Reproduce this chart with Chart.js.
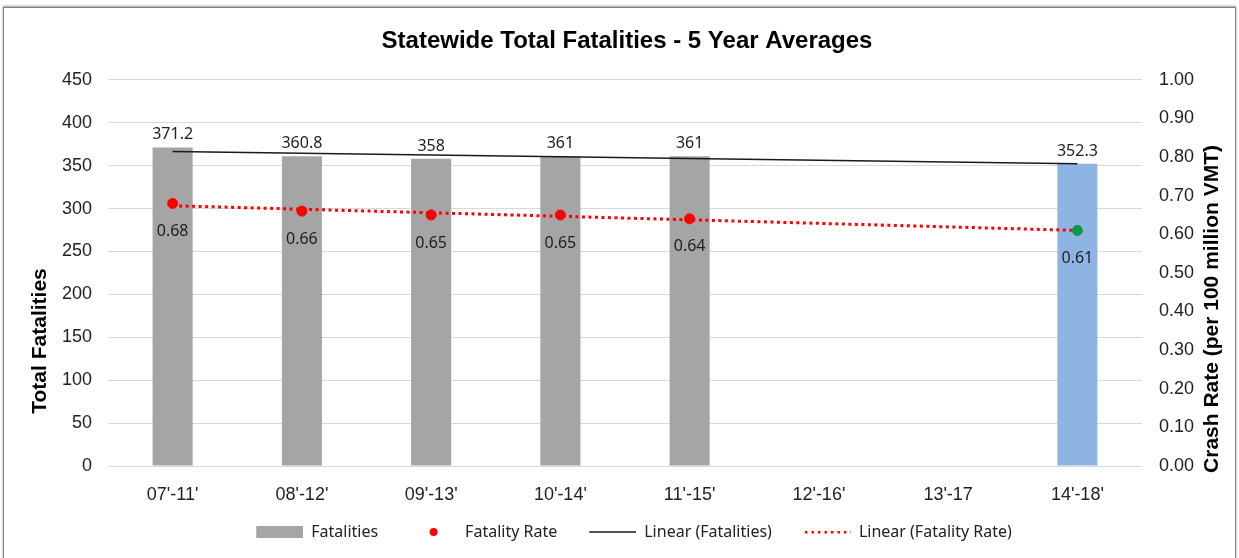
<!DOCTYPE html>
<html lang="en">
<head>
    <meta charset="UTF-8">
    <title>Statewide Total Fatalities - 5 Year Averages</title>
    <script src="https://cdn.jsdelivr.net/npm/chart.js"></script>
    <style>
        body {
            margin: 0;
            background: #ffffff;
            overflow: hidden;
        }

        .frame {
            position: absolute;
            left: 3px;
            top: 7px;
            width: 1231px;
            height: 600px;
            border: 1px solid #7f7f7f;
            box-shadow: 0 -1px 2px #9a9a9a;
        }

        .chart-box {
            position: absolute;
            left: 0;
            top: 0;
            width: 1239px;
            height: 558px;
        }
    </style>
</head>
<body>
    <div class="frame"></div>
    <div class="chart-box">
        <canvas id="fatalChart"></canvas>
    </div>

    <script>
        // values
        const categories = ["07'-11'", "08'-12'", "09'-13'", "10'-14'", "11'-15'", "12'-16'", "13'-17", "14'-18'"];
        const fatalities = [371.2, 360.8, 358, 361, 361, null, null, 352.3];
        const fatalityRate = [0.68, 0.66, 0.65, 0.65, 0.64, null, null, 0.61];
        const fatalitiesTrend = [366.4, null, null, null, null, null, null, 352.3];
        const rateTrend = [0.674, null, null, null, null, null, null, 0.610];

        const fatalAxis = { min: 0, max: 450, step: 50 };
        const rateAxis = { min: 0, max: 1, step: 0.1 };

        const barColors = ['#A5A5A5', '#A5A5A5', '#A5A5A5', '#A5A5A5', '#A5A5A5', '#A5A5A5', '#A5A5A5', '#8DB4E2'];
        const pointColors = ['#FF0000', '#FF0000', '#FF0000', '#FF0000', '#FF0000', '#FF0000', '#FF0000', '#0B9A45'];

        const tickFont = { family: '"Liberation Sans", Arial, sans-serif', size: 18 };
        const labelFont = '16px "Noto Sans", sans-serif';

        // little legend icons, 47px wide, drawn in the right part of a wider canvas
        function makeIcon(draw) {
            const c = document.createElement('canvas');
            c.width = 61;
            c.height = 12;
            const g = c.getContext('2d');
            g.translate(14, 0);
            draw(g);
            return c;
        }
        const iconBar = makeIcon(g => { g.fillStyle = '#A5A5A5'; g.fillRect(0, 0, 47, 12); });
        const iconDot = makeIcon(g => { g.fillStyle = '#FF0000'; g.beginPath(); g.arc(23.5, 6, 4, 0, Math.PI * 2); g.fill(); });
        const iconLine = makeIcon(g => { g.strokeStyle = '#1a1a1a'; g.lineWidth = 1.5; g.beginPath(); g.moveTo(0, 6); g.lineTo(47, 6); g.stroke(); });
        const iconDotted = makeIcon(g => {
            g.fillStyle = '#FF0000';
            for (let x = 1; x < 47; x += 6.5) g.fillRect(x, 5, 2.5, 2.5);
        });

        const extras = {
            id: 'extras',
            afterDatasetsDraw(chart) {
                const ctx = chart.ctx;
                ctx.save();
                ctx.font = labelFont;
                ctx.fillStyle = '#1e1e1e';
                ctx.textAlign = 'center';

                ctx.textBaseline = 'alphabetic';
                chart.getDatasetMeta(0).data.forEach((el, i) => {
                    if (fatalities[i] == null) return;
                    ctx.fillText(String(fatalities[i]), el.x, el.y - 8);
                });

                ctx.textBaseline = 'middle';
                chart.getDatasetMeta(1).data.forEach((el, i) => {
                    if (fatalityRate[i] == null) return;
                    ctx.fillText(fatalityRate[i].toFixed(2), el.x, el.y + 28);
                });

                // axis titles (both read bottom to top)
                ctx.font = 'bold 21px "Liberation Sans", Arial, sans-serif';
                ctx.fillStyle = '#000';
                ctx.save();
                ctx.translate(40, 341);
                ctx.rotate(-Math.PI / 2);
                ctx.fillText('Total Fatalities', 0, 0);
                ctx.restore();
                ctx.save();
                ctx.translate(1212, 309);
                ctx.rotate(-Math.PI / 2);
                ctx.fillText('Crash Rate (per 100 million VMT)', 0, 0);
                ctx.restore();
                ctx.restore();
            }
        };

        const chart = new Chart(document.getElementById('fatalChart'), {
            type: 'bar',
            data: {
                labels: categories,
                datasets: [{
                    label: 'Fatalities',
                    data: fatalities,
                    backgroundColor: barColors,
                    categoryPercentage: 1,
                    barPercentage: 0.31,
                    yAxisID: 'y',
                    order: 4
                }, {
                    type: 'line',
                    label: 'Fatality Rate',
                    data: fatalityRate,
                    showLine: false,
                    pointRadius: 5,
                    pointBackgroundColor: pointColors,
                    pointBorderColor: pointColors,
                    yAxisID: 'y1',
                    order: 0
                }, {
                    type: 'line',
                    label: 'Linear (Fatalities)',
                    data: fatalitiesTrend,
                    spanGaps: true,
                    borderColor: '#1a1a1a',
                    borderWidth: 1.5,
                    pointRadius: 0,
                    yAxisID: 'y',
                    order: 2
                }, {
                    type: 'line',
                    label: 'Linear (Fatality Rate)',
                    data: rateTrend,
                    spanGaps: true,
                    borderColor: '#FF0000',
                    borderWidth: 3,
                    borderDash: [3, 3.5],
                    pointRadius: 0,
                    yAxisID: 'y1',
                    order: 1
                }]
            },
            options: {
                responsive: true,
                maintainAspectRatio: false,
                animation: false,
                layout: { padding: { left: 15, right: 0, top: 0, bottom: 8 } },
                plugins: {
                    title: {
                        display: true,
                        text: 'Statewide Total Fatalities - 5 Year Averages',
                        color: '#000',
                        font: { family: '"Liberation Sans", Arial, sans-serif', size: 24, weight: 'bold' },
                        padding: { top: 27, bottom: 24 }
                    },
                    legend: {
                        position: 'bottom',
                        labels: {
                            usePointStyle: true,
                            pointStyleWidth: 61,
                            padding: 18,
                            color: '#222',
                            font: { family: '"Noto Sans", sans-serif', size: 16 },
                            generateLabels: () => [
                                { text: 'Fatalities', pointStyle: iconBar, fillStyle: '#A5A5A5', strokeStyle: '#A5A5A5', lineWidth: 0, datasetIndex: 0, fontColor: '#222' },
                                { text: 'Fatality Rate', pointStyle: iconDot, fillStyle: '#FF0000', strokeStyle: '#FF0000', lineWidth: 0, datasetIndex: 1, fontColor: '#222' },
                                { text: 'Linear (Fatalities)', pointStyle: iconLine, fillStyle: '#000', strokeStyle: '#000', lineWidth: 0, datasetIndex: 2, fontColor: '#222' },
                                { text: 'Linear (Fatality Rate)', pointStyle: iconDotted, fillStyle: '#FF0000', strokeStyle: '#FF0000', lineWidth: 0, datasetIndex: 3, fontColor: '#222' }
                            ]
                        }
                    },
                    tooltip: { enabled: false }
                },
                scales: {
                    x: {
                        grid: { display: false },
                        border: { display: false },
                        ticks: { color: '#222', font: tickFont, padding: 10, maxRotation: 0 },
                        afterFit: s => { s.height = 40; }
                    },
                    y: {
                        position: 'left',
                        min: fatalAxis.min,
                        max: fatalAxis.max,
                        grid: { color: '#D9D9D9', drawTicks: false },
                        border: { display: false },
                        ticks: { stepSize: fatalAxis.step, color: '#222', font: tickFont, padding: 16 },
                        afterFit: s => { s.width = 93; }
                    },
                    y1: {
                        position: 'right',
                        min: rateAxis.min,
                        max: rateAxis.max,
                        grid: { display: false, drawTicks: false },
                        border: { display: false },
                        ticks: {
                            stepSize: rateAxis.step,
                            color: '#222',
                            font: tickFont,
                            padding: 17,
                            callback: v => Number(v).toFixed(2)
                        },
                        afterFit: s => { s.width = 97; }
                    }
                }
            },
            plugins: [extras]
        });
    </script>
</body>
</html>
